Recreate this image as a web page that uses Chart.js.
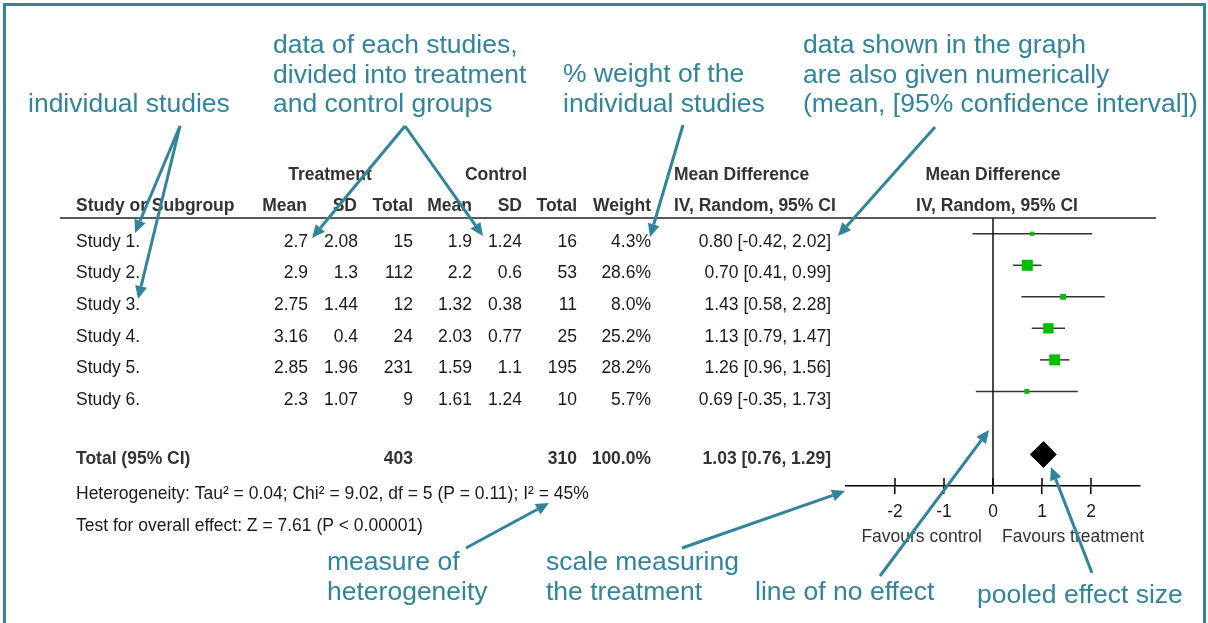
<!DOCTYPE html>
<html>
<head>
<meta charset="utf-8">
<script src="https://cdn.jsdelivr.net/npm/chart.js@4.4.0/dist/chart.umd.min.js"></script>
<style>
  html, body { margin: 0; padding: 0; background: #fff; }
</style>
</head>
<body>
<canvas id="forest" width="1208" height="623"></canvas>
<script>
// study data
const studies = ['Study 1.', 'Study 2.', 'Study 3.', 'Study 4.', 'Study 5.', 'Study 6.'];
const trtMean = [2.7, 2.9, 2.75, 3.16, 2.85, 2.3];
const trtSD = [2.08, 1.3, 1.44, 0.4, 1.96, 1.07];
const trtTotal = [15, 112, 12, 24, 231, 9];
const ctlMean = [1.9, 2.2, 1.32, 2.03, 1.59, 1.61];
const ctlSD = [1.24, 0.6, 0.38, 0.77, 1.1, 1.24];
const ctlTotal = [16, 53, 11, 25, 195, 10];
const weight = [4.3, 28.6, 8.0, 25.2, 28.2, 5.7];
const meanDiff = [0.80, 0.70, 1.43, 1.13, 1.26, 0.69];
const ciLow = [-0.42, 0.41, 0.58, 0.79, 0.96, -0.35];
const ciHigh = [2.02, 0.99, 2.28, 1.47, 1.56, 1.73];
const pooledMD = 1.03;
const pooledLow = 0.76;
const pooledHigh = 1.29;
const xTicks = [-2, -1, 0, 1, 2];
const heterogeneityText = 'Heterogeneity: Tau\u00b2 = 0.04; Chi\u00b2 = 9.02, df = 5 (P = 0.11); I\u00b2 = 45%';
const overallText = 'Test for overall effect: Z = 7.61 (P < 0.00001)';

const FONT = '"Liberation Sans", Arial, sans-serif';
const TEAL = '#31849B';
const TOTAL_ROW = 7;
const DIAMOND_H = 0.41;

const sum = arr => arr.reduce((a, b) => a + b, 0);

// annotation callouts around the plot
const notes = [
  { x: 28, y: 105, lines: ['individual studies'] },
  { x: 273, y: 46, lines: ['data of each studies,', 'divided into treatment', 'and control groups'] },
  { x: 563, y: 75, lines: ['% weight of the', 'individual studies'] },
  { x: 803, y: 46, lines: ['data shown in the graph', 'are also given numerically', '(mean, [95% confidence interval])'] },
  { x: 327, y: 563, lines: ['measure of', 'heterogeneity'] },
  { x: 546, y: 563, lines: ['scale measuring', 'the treatment'] },
  { x: 755, y: 593, lines: ['line of no effect'] },
  { x: 977, y: 596, lines: ['pooled effect size'] },
];
const arrows = [
  [180, 126, 135, 233], [180, 126, 138, 299],
  [405, 126, 312, 238], [405, 126, 483, 236],
  [683, 125, 650, 237], [935, 127, 838, 236],
  [466, 548, 549, 503], [682, 548, 845, 491],
  [880, 576, 989, 430], [1092, 573, 1051, 467],
];

function txt(ctx, s, x, y, align, bold, color) {
  ctx.font = (bold ? 'bold ' : '') + '17.5px ' + FONT;
  ctx.textAlign = align;
  ctx.textBaseline = 'middle';
  ctx.fillStyle = color || (bold ? '#333' : '#1a1a1a');
  ctx.fillText(s, x, y);
}

function arrow(ctx, x1, y1, x2, y2) {
  const a = Math.atan2(y2 - y1, x2 - x1);
  const hl = 13, hw = 6;
  const bx = x2 - hl * Math.cos(a), by = y2 - hl * Math.sin(a);
  ctx.beginPath();
  ctx.moveTo(x1, y1);
  ctx.lineTo(bx, by);
  ctx.stroke();
  ctx.beginPath();
  ctx.moveTo(x2, y2);
  ctx.lineTo(bx + hw * Math.sin(a), by - hw * Math.cos(a));
  ctx.lineTo(bx - hw * Math.sin(a), by + hw * Math.cos(a));
  ctx.closePath();
  ctx.fill();
}

const tablePlugin = {
  id: 'table',
  afterDraw(chart) {
    const ctx = chart.ctx;
    const area = chart.chartArea;
    const xs = chart.scales.x;
    ctx.save();

    // frame
    ctx.strokeStyle = TEAL;
    ctx.lineWidth = 3;
    ctx.beginPath();
    ctx.moveTo(4.5, 630);
    ctx.lineTo(4.5, 4.5);
    ctx.lineTo(1204.5, 4.5);
    ctx.lineTo(1204.5, 630);
    ctx.stroke();

    // header rule
    ctx.strokeStyle = '#222';
    ctx.lineWidth = 1.5;
    ctx.beginPath();
    ctx.moveTo(60, area.top);
    ctx.lineTo(1156, area.top);
    ctx.stroke();

    // upper half of the axis ticks
    ctx.strokeStyle = '#000';
    xTicks.forEach(v => {
      const px = xs.getPixelForValue(v);
      ctx.beginPath();
      ctx.moveTo(px, area.bottom - 8);
      ctx.lineTo(px, area.bottom);
      ctx.stroke();
    });

    // headers
    txt(ctx, 'Treatment', 330, 175, 'center', true);
    txt(ctx, 'Control', 496, 175, 'center', true);
    txt(ctx, 'Mean Difference', 674, 175, 'left', true);
    txt(ctx, 'Mean Difference', 993, 175, 'center', true);
    txt(ctx, 'Study or Subgroup', 76, 206, 'left', true);
    txt(ctx, 'Mean', 307, 206, 'right', true);
    txt(ctx, 'SD', 357, 206, 'right', true);
    txt(ctx, 'Total', 413, 206, 'right', true);
    txt(ctx, 'Mean', 472, 206, 'right', true);
    txt(ctx, 'SD', 522, 206, 'right', true);
    txt(ctx, 'Total', 577, 206, 'right', true);
    txt(ctx, 'Weight', 651, 206, 'right', true);
    txt(ctx, 'IV, Random, 95% CI', 674, 206, 'left', true);
    txt(ctx, 'IV, Random, 95% CI', 997, 206, 'center', true);

    // study rows
    studies.forEach((s, i) => {
      const y = 241.7 + 31.7 * i;
      txt(ctx, s, 76, y, 'left');
      txt(ctx, String(trtMean[i]), 308, y, 'right');
      txt(ctx, String(trtSD[i]), 358, y, 'right');
      txt(ctx, String(trtTotal[i]), 413, y, 'right');
      txt(ctx, String(ctlMean[i]), 472, y, 'right');
      txt(ctx, String(ctlSD[i]), 522, y, 'right');
      txt(ctx, String(ctlTotal[i]), 577, y, 'right');
      txt(ctx, weight[i].toFixed(1) + '%', 651, y, 'right');
      txt(ctx, meanDiff[i].toFixed(2) + ' [' + ciLow[i].toFixed(2) + ', ' + ciHigh[i].toFixed(2) + ']', 831, y, 'right');
    });

    // total row
    txt(ctx, 'Total (95% CI)', 76, 459, 'left', true);
    txt(ctx, String(sum(trtTotal)), 413, 459, 'right', true);
    txt(ctx, String(sum(ctlTotal)), 577, 459, 'right', true);
    txt(ctx, sum(weight).toFixed(1) + '%', 651, 459, 'right', true);
    txt(ctx, pooledMD.toFixed(2) + ' [' + pooledLow.toFixed(2) + ', ' + pooledHigh.toFixed(2) + ']', 831, 459, 'right', true);
    txt(ctx, heterogeneityText, 76, 494, 'left');
    txt(ctx, overallText, 76, 526, 'left');

    // axis captions
    const zero = xs.getPixelForValue(0);
    txt(ctx, 'Favours control', zero - 11, 537, 'right', false, '#333');
    txt(ctx, 'Favours treatment', zero + 9, 537, 'left', false, '#333');

    // callouts
    ctx.fillStyle = TEAL;
    ctx.font = '26.5px ' + FONT;
    ctx.textAlign = 'left';
    ctx.textBaseline = 'middle';
    notes.forEach(n => {
      n.lines.forEach((l, k) => ctx.fillText(l, n.x, n.y + k * 29.5));
    });
    ctx.strokeStyle = TEAL;
    ctx.lineWidth = 3;
    arrows.forEach(a => arrow(ctx, a[0], a[1], a[2], a[3]));

    ctx.restore();
  }
};

const ciDatasets = ciLow.map((lo, i) => ({
  type: 'line',
  data: [{ x: lo, y: i }, { x: ciHigh[i], y: i }],
  borderColor: '#333',
  borderWidth: 1.5,
  pointRadius: 0,
  order: 3,
}));

new Chart(document.getElementById('forest'), {
  type: 'scatter',
  data: {
    datasets: [
      ...ciDatasets,
      {
        type: 'scatter',
        data: meanDiff.map((m, i) => ({ x: m, y: i })),
        pointStyle: 'rect',
        pointRadius: weight.map(w => 1.457 * Math.sqrt(w)),
        backgroundColor: '#00BF00',
        borderWidth: 0,
        order: 1,
      },
      {
        type: 'line',
        data: [
          { x: pooledLow, y: TOTAL_ROW },
          { x: pooledMD, y: TOTAL_ROW - DIAMOND_H },
          { x: pooledHigh, y: TOTAL_ROW },
          { x: pooledMD, y: TOTAL_ROW + DIAMOND_H },
          { x: pooledLow, y: TOTAL_ROW },
        ],
        fill: 'shape',
        backgroundColor: '#000',
        borderColor: '#000',
        borderWidth: 1,
        pointRadius: 0,
        order: 1,
      },
      {
        type: 'line',
        data: [{ x: 0, y: -0.5 }, { x: 0, y: 8 }],
        borderColor: '#111',
        borderWidth: 1.5,
        pointRadius: 0,
        order: 2,
      },
    ]
  },
  options: {
    responsive: false,
    animation: false,
    devicePixelRatio: 1,
    layout: { padding: { left: 846, right: 68, top: 218, bottom: 77 } },
    plugins: { legend: { display: false }, tooltip: { enabled: false } },
    scales: {
      x: {
        type: 'linear',
        min: -3,
        max: 3,
        position: 'bottom',
        afterBuildTicks: s => { s.ticks = xTicks.map(v => ({ value: v })); },
        afterFit: s => { s.height = 60; },
        ticks: { color: '#1a1a1a', font: { family: FONT, size: 17.5 }, padding: 8 },
        grid: { drawOnChartArea: false, drawTicks: true, tickLength: 8, color: '#000', lineWidth: 1.5 },
        border: { display: true, color: '#000', width: 1.5 },
      },
      y: { type: 'linear', min: -0.5, max: 8, reverse: true, display: false },
    }
  },
  plugins: [tablePlugin]
});
</script>
</body>
</html>
